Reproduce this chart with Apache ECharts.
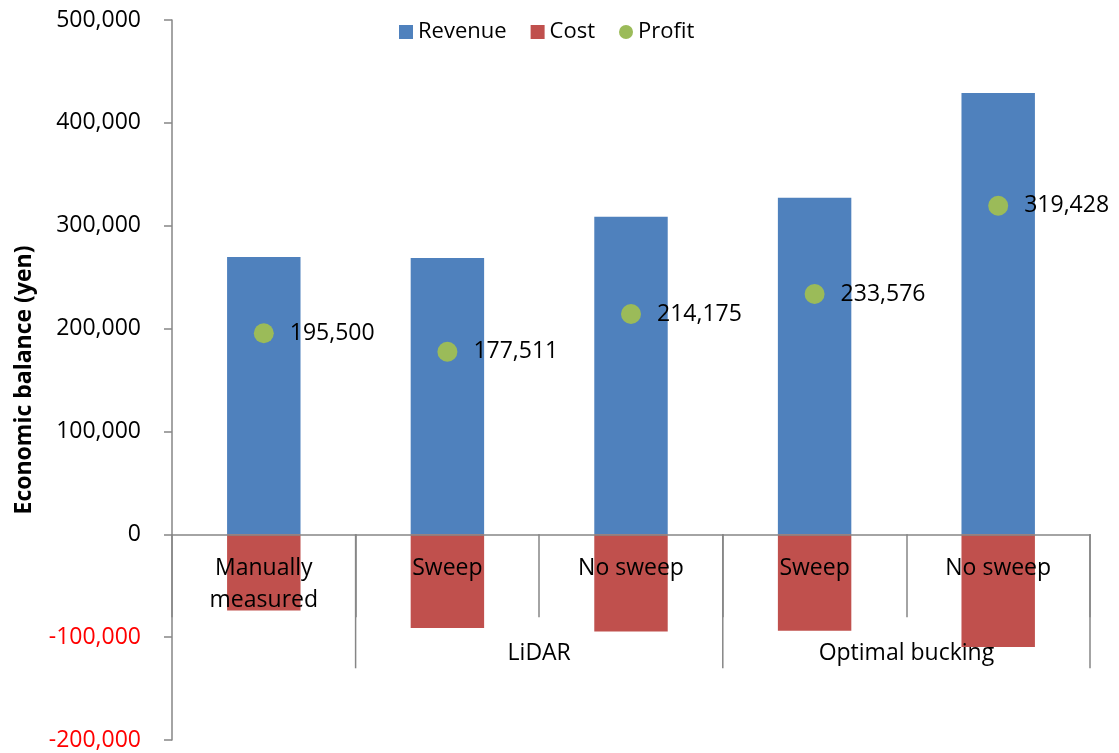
<!DOCTYPE html>
<html>
<head>
<meta charset="utf-8">
<script src="https://cdn.jsdelivr.net/npm/echarts@6/dist/echarts.min.js"></script>
<style>
  html, body { margin: 0; padding: 0; background: #fff; }
  #chart { width: 1119px; height: 753px; }
</style>
</head>
<body>
<div id="chart"></div>
<script>
// Economic balance per bucking method (yen)
const categories = ['Manually\nmeasured', 'Sweep', 'No sweep', 'Sweep', 'No sweep'];
const revenue = [269700, 268700, 308800, 327300, 429000];
const cost = [-74200, -91200, -94500, -93700, -109600];
const profit = [195500, 177511, 214175, 233576, 319428];

// Second-level category groups: [label, first index, index after last]
const groups = [
  ['', 0, 1],
  ['LiDAR', 1, 3],
  ['Optimal bucking', 3, 5]
];

const yTicks = { min: -200000, max: 500000, interval: 100000 };

const FONT = '"Open Sans", sans-serif';
const AXIS_GRAY = '#868686';
const fmt = v => Number(v).toLocaleString('en-US');

const chart = echarts.init(document.getElementById('chart'));

const option = {
  animation: false,
  backgroundColor: '#fff',
  textStyle: { fontFamily: FONT },
  grid: { left: 172, right: 29, top: 20, bottom: 13, containLabel: false, outerBoundsMode: 'none' },
  legend: {
    top: 16,
    left: 394,
    itemWidth: 14,
    itemHeight: 14,
    itemGap: 24,
    textStyle: { fontFamily: FONT, fontSize: 22, color: '#000' },
    data: [
      { name: 'Revenue', icon: 'rect' },
      { name: 'Cost', icon: 'rect' },
      { name: 'Profit', icon: 'circle' }
    ]
  },
  xAxis: {
    type: 'category',
    data: categories,
    z: 10,
    axisLine: { onZero: true, lineStyle: { color: AXIS_GRAY, width: 1.5 } },
    axisTick: { show: true, interval: 0, length: 83, lineStyle: { color: AXIS_GRAY, width: 1.5 } },
    axisLabel: { show: false },
    splitLine: { show: false }
  },
  yAxis: {
    type: 'value',
    min: yTicks.min,
    max: yTicks.max,
    interval: yTicks.interval,
    name: 'Economic balance (yen)',
    nameLocation: 'middle',
    nameGap: 136,
    nameTextStyle: {
      fontFamily: FONT,
      fontSize: 23,
      fontWeight: 'bold',
      color: '#000'
    },
    axisLine: { show: true, lineStyle: { color: AXIS_GRAY, width: 1.5 } },
    axisTick: { show: true, length: 8, lineStyle: { color: AXIS_GRAY, width: 1.5 } },
    axisLabel: {
      margin: 31,
      fontFamily: FONT,
      fontSize: 23,
      formatter: fmt,
      color: v => (Number(v) < 0 ? '#FF0000' : '#000')
    },
    splitLine: { show: false }
  },
  series: [
    {
      name: 'Revenue',
      type: 'bar',
      data: revenue,
      barWidth: '40%',
      barGap: '-100%',
      itemStyle: { color: '#4F81BD' }
    },
    {
      name: 'Cost',
      type: 'bar',
      data: cost,
      barWidth: '40%',
      barGap: '-100%',
      itemStyle: { color: '#C0504D' }
    },
    {
      name: 'Profit',
      type: 'scatter',
      data: profit,
      symbol: 'circle',
      symbolSize: 20,
      z: 5,
      itemStyle: { color: '#9BBB59', opacity: 1 },
      label: {
        show: true,
        position: 'right',
        distance: 16,
        fontFamily: FONT,
        fontSize: 23,
        color: '#000000',
        opacity: 1,
        textBorderWidth: 0,
        formatter: p => fmt(p.value)
      }
    }
  ]
};

chart.setOption(option);

// Category labels, group dividers and group labels hanging below the zero line
function drawCategoryLevels() {
  const c0 = chart.convertToPixel({ xAxisIndex: 0 }, 0);
  const c1 = chart.convertToPixel({ xAxisIndex: 0 }, 1);
  const band = c1 - c0;
  const edge = k => c0 - band / 2 + k * band;
  const yZero = chart.convertToPixel({ yAxisIndex: 0 }, 0);
  const elements = [];

  categories.forEach((name, i) => {
    elements.push({
      type: 'text',
      z: 20,
      x: edge(i) + band / 2,
      y: yZero + 18,
      style: {
        text: name,
        font: '23px ' + FONT,
        lineHeight: 32,
        fill: '#000',
        align: 'center',
        verticalAlign: 'top'
      }
    });
  });

  groups.forEach(([label, start, end]) => {
    elements.push({
      type: 'line',
      z: 20,
      shape: { x1: edge(end), y1: yZero, x2: edge(end), y2: yZero + 134 },
      style: { stroke: AXIS_GRAY, lineWidth: 1.5 }
    });
    if (label) {
      elements.push({
        type: 'text',
        z: 20,
        x: (edge(start) + edge(end)) / 2,
        y: yZero + 119,
        style: {
          text: label,
          font: '23px ' + FONT,
          fill: '#000',
          align: 'center',
          verticalAlign: 'middle'
        }
      });
    }
  });
  chart.setOption({ graphic: elements });
}
drawCategoryLevels();
</script>
</body>
</html>
